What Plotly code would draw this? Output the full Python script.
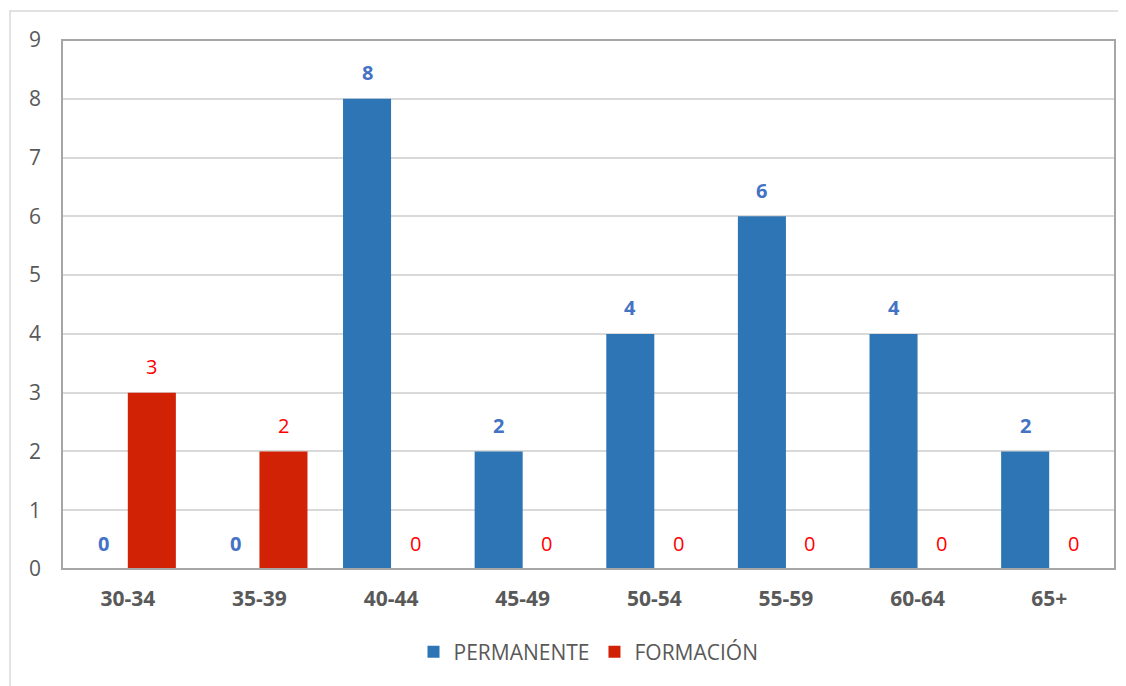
import plotly.graph_objects as go

categories = ["30-34", "35-39", "40-44", "45-49", "50-54", "55-59", "60-64", "65+"]
permanente = [0, 0, 8, 2, 4, 6, 4, 2]
formacion = [3, 2, 0, 0, 0, 0, 0, 0]
y_ticks = list(range(0, 10))

FONT = "Open Sans"
BLUE_BAR, RED_BAR = "#2E75B6", "#D12206"
BLUE_TXT, RED_TXT = "#4472C4", "#FF0000"

fig = go.Figure()
fig.add_trace(go.Bar(x=categories, y=permanente, name="PERMANENTE",
                     marker=dict(color=BLUE_BAR, line=dict(width=0))))
fig.add_trace(go.Bar(x=categories, y=formacion, name="FORMACIÓN",
                     marker=dict(color=RED_BAR, line=dict(width=0))))

# page body has an 8px margin, so the figure is laid out 8px smaller
W, H = 1118, 678
L, R, T, B = 54, 11, 32, 117
pw, ph = W - L - R, H - T - B
BARGAP = 0.27
slot = pw / len(categories)
half = slot * (1 - BARGAP) / 4  # centre offset of each bar in a group

annotations = []
for vals, shift, color, weight in [(permanente, -half, BLUE_TXT, "bold"),
                                   (formacion, half, RED_TXT, "normal")]:
    for c, v in zip(categories, vals):
        annotations.append(dict(x=c, y=v, xref="x", yref="y", text=str(v), showarrow=False,
                                xshift=shift, yshift=26, yanchor="middle",
                                font=dict(family=FONT, size=20, color=color, weight=weight)))

fig.update_layout(
    width=W, height=H,
    margin=dict(l=L, r=R, t=T, b=B, pad=0),
    paper_bgcolor="white", plot_bgcolor="white",
    barmode="group", bargap=BARGAP, bargroupgap=0,
    font=dict(family=FONT, color="#595959", size=21),
    showlegend=True,
    legend=dict(orientation="h", x=0.5, xanchor="center", y=-0.157, yanchor="middle",
                font=dict(size=21, color="#595959"), traceorder="normal"),
    xaxis=dict(showgrid=False, tickfont=dict(size=21, color="#595959", weight="bold"),
               ticks="", showline=False, ticklabelstandoff=15),
    yaxis=dict(range=[0, 9], tickvals=y_ticks, showgrid=True, gridcolor="#D9D9D9", gridwidth=1.5,
               zeroline=False, showline=False, ticks="", ticklabelstandoff=20,
               tickfont=dict(size=21, color="#595959")),
    annotations=annotations,
    shapes=[
        dict(type="rect", xref="paper", yref="paper", x0=0, x1=1, y0=0, y1=1,
             line=dict(color="#A6A6A6", width=2), layer="above"),
        dict(type="rect", xref="paper", yref="paper",
             x0=(2 - L) / pw, x1=(W + 20 - L) / pw,
             y0=(T + ph - (H + 20)) / ph, y1=(T + ph - 3) / ph,
             line=dict(color="#D9D9D9", width=1.5), layer="below"),
    ],
)
fig.write_html("out.html")
